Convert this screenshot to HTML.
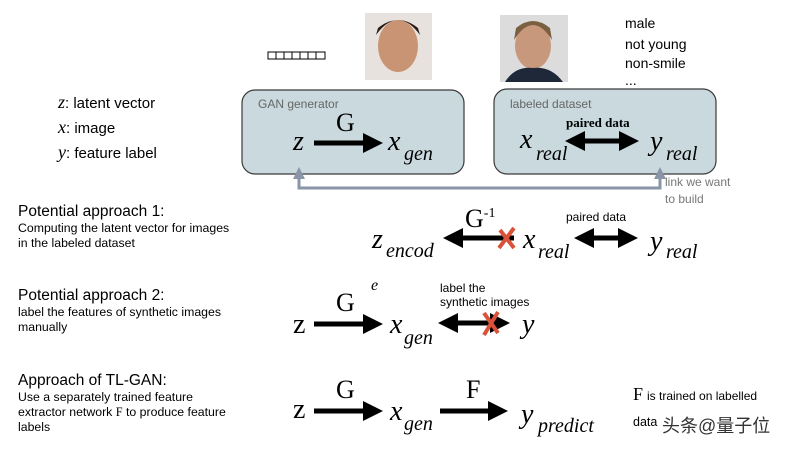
<!DOCTYPE html>
<html><head><meta charset="utf-8"><style>
html,body{margin:0;padding:0;background:#fff;width:800px;height:450px;overflow:hidden}
svg text{font-family:"Liberation Sans",sans-serif}
.m{font-family:"Liberation Serif",serif;font-style:italic}
.r{font-family:"Liberation Serif",serif}
</style></head><body>
<svg width="800" height="450" viewBox="0 0 800 450" xmlns="http://www.w3.org/2000/svg">
<defs>
<marker id="ah" markerWidth="4" markerHeight="4" refX="3" refY="2" orient="auto" markerUnits="strokeWidth"><path d="M0,0 L4,2 L0,4 z" fill="#000"/></marker>
<marker id="ahs" markerWidth="4" markerHeight="4" refX="3" refY="2" orient="auto-start-reverse" markerUnits="strokeWidth"><path d="M0,0 L4,2 L0,4 z" fill="#000"/></marker>
<marker id="gh" markerWidth="4" markerHeight="4" refX="3" refY="2" orient="auto" markerUnits="strokeWidth"><path d="M0,0 L4,2 L0,4 z" fill="#8a96a8"/></marker>
</defs>
<g fill="none" stroke="#000" stroke-width="1">
<rect x="268" y="52" width="57" height="7"/>
<line x1="276" y1="52" x2="276" y2="59"/><line x1="284" y1="52" x2="284" y2="59"/><line x1="292" y1="52" x2="292" y2="59"/><line x1="300" y1="52" x2="300" y2="59"/><line x1="308" y1="52" x2="308" y2="59"/><line x1="316" y1="52" x2="316" y2="59"/>
</g>
<rect x="365" y="13" width="67" height="67" fill="#e8e2de"/>
<ellipse cx="398" cy="46" rx="20" ry="26" fill="#c99474"/>
<path d="M376,35 Q398,5 420,35 L418,28 Q398,12 378,28z" fill="#2a1c14"/>
<rect x="500" y="15" width="68" height="67" fill="#dcdcdc"/>
<ellipse cx="533" cy="46" rx="18" ry="23" fill="#c8987c"/>
<path d="M514,40 Q533,10 552,40 L550,28 Q533,14 516,28z" fill="#7a6040"/>
<path d="M505,82 Q515,66 533,68 Q551,66 563,82z" fill="#1e2838"/>
<text x="625" y="28" font-size="14">male</text>
<text x="625" y="49" font-size="14">not young</text>
<text x="625" y="68" font-size="14">non-smile</text>
<text x="625" y="85" font-size="14">...</text>
<rect x="242" y="90" width="222" height="84" rx="13" fill="#c9d9de" stroke="#3a3a3a" stroke-width="1.2"/>
<rect x="494" y="89" width="222" height="85" rx="13" fill="#c9d9de" stroke="#3a3a3a" stroke-width="1.2"/>
<text x="258" y="108" font-size="12" fill="#666">GAN generator</text>
<text x="510" y="108" font-size="12" fill="#666">labeled dataset</text>
<text x="293" y="150" font-size="28" class="m">z</text>
<text x="336" y="131" font-size="26" class="r">G</text>
<line x1="314" y1="143" x2="378" y2="143" stroke="#000" stroke-width="5" marker-end="url(#ah)"/>
<text x="388" y="150" font-size="28" class="m">x</text><text x="404" y="160" font-size="20" class="m">gen</text>
<text x="566" y="127" font-size="13" class="r" font-weight="bold">paired data</text>
<text x="520" y="148" font-size="28" class="m">x</text><text x="536" y="160" font-size="20" class="m">real</text>
<line x1="570" y1="141" x2="634" y2="141" stroke="#000" stroke-width="5" marker-start="url(#ahs)" marker-end="url(#ah)"/>
<text x="650" y="150" font-size="28" class="m">y</text><text x="666" y="160" font-size="20" class="m">real</text>
<polyline points="299,176 299,188 660,188 660,176" fill="none" stroke="#8a96a8" stroke-width="3"/>
<line x1="299" y1="182" x2="299" y2="170" stroke="#8a96a8" stroke-width="3" marker-end="url(#gh)"/>
<line x1="660" y1="182" x2="660" y2="170" stroke="#8a96a8" stroke-width="3" marker-end="url(#gh)"/>
<text x="665" y="186" font-size="12" fill="#777">link we want</text>
<text x="665" y="203" font-size="12" fill="#777">to build</text>
<text x="58" y="108" font-size="15"><tspan class="m" font-size="18">z</tspan>: latent vector</text>
<text x="58" y="133" font-size="15"><tspan class="m" font-size="18">x</tspan>: image</text>
<text x="58" y="158" font-size="15"><tspan class="m" font-size="18">y</tspan>: feature label</text>
<text x="18" y="216" font-size="15.5">Potential approach 1:</text>
<text x="18" y="232" font-size="12.3">Computing the latent vector for images</text>
<text x="18" y="247" font-size="12.3">in the labeled dataset</text>
<text x="18" y="300" font-size="15.5">Potential approach 2:</text>
<text x="18" y="316" font-size="12.3">label the features of synthetic images</text>
<text x="18" y="331" font-size="12.3">manually</text>
<text x="18" y="385" font-size="15.5">Approach of TL-GAN:</text>
<text x="18" y="401" font-size="12.3">Use a separately trained feature</text>
<text x="18" y="416" font-size="12.3">extractor network <tspan class="r">F</tspan> to produce feature</text>
<text x="18" y="431" font-size="12.3">labels</text>
<text x="372" y="248" font-size="28" class="m">z</text><text x="386" y="257" font-size="20" class="m">encod</text>
<text x="465" y="227" font-size="26" class="r">G<tspan font-size="14" dy="-10">-1</tspan></text>
<line x1="514" y1="238" x2="448" y2="238" stroke="#000" stroke-width="5" marker-end="url(#ah)"/>
<path d="M500,230 L514,248 M514,228 L499,248" stroke="#d9533b" stroke-width="4" fill="none"/>
<text x="523" y="248" font-size="28" class="m">x</text><text x="538" y="258" font-size="20" class="m">real</text>
<text x="566" y="221" font-size="12">paired data</text>
<line x1="579" y1="238" x2="633" y2="238" stroke="#000" stroke-width="5" marker-start="url(#ahs)" marker-end="url(#ah)"/>
<text x="650" y="250" font-size="28" class="m">y</text><text x="666" y="258" font-size="20" class="m">real</text>
<text x="293" y="333" font-size="28" class="r">z</text>
<text x="336" y="311" font-size="26" class="r">G</text>
<text x="371" y="290" font-size="16" class="m">e</text>
<line x1="314" y1="324" x2="378" y2="324" stroke="#000" stroke-width="5" marker-end="url(#ah)"/>
<text x="390" y="333" font-size="28" class="m">x</text><text x="404" y="344" font-size="20" class="m">gen</text>
<text x="440" y="292" font-size="12">label the</text>
<text x="440" y="306" font-size="12">synthetic images</text>
<line x1="443" y1="323" x2="505" y2="323" stroke="#000" stroke-width="5" marker-start="url(#ahs)" marker-end="url(#ah)"/>
<path d="M484,313 L498,333 M498,312 L484,335" stroke="#d9533b" stroke-width="4" fill="none"/>
<text x="522" y="333" font-size="28" class="m">y</text>
<text x="293" y="418" font-size="28" class="r">z</text>
<text x="336" y="398" font-size="26" class="r">G</text>
<line x1="314" y1="411" x2="378" y2="411" stroke="#000" stroke-width="5" marker-end="url(#ah)"/>
<text x="390" y="420" font-size="28" class="m">x</text><text x="404" y="430" font-size="20" class="m">gen</text>
<text x="466" y="398" font-size="26" class="r">F</text>
<line x1="440" y1="411" x2="503" y2="411" stroke="#000" stroke-width="5" marker-end="url(#ah)"/>
<text x="521" y="423" font-size="28" class="m">y</text><text x="538" y="432" font-size="20" class="m">predict</text>
<text x="633" y="400" font-size="18" class="r">F</text>
<text x="647" y="400" font-size="12">is trained on labelled</text>
<text x="633" y="426" font-size="12.5">data</text>
<text x="662" y="432" font-size="18" fill="#333" font-family="'Liberation Sans','Noto Sans CJK SC',sans-serif">头条@量子位</text>
</svg>
</body></html>
